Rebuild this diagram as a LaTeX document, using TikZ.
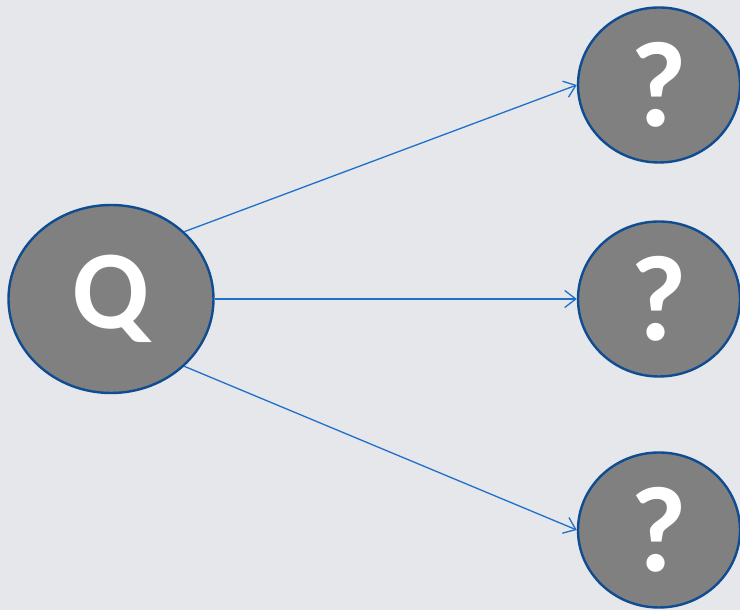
\documentclass[tikz,border=0pt]{standalone}
\usepackage{fontspec}
\setmainfont{Carlito}
\usetikzlibrary{shapes.geometric,arrows.meta}
\definecolor{bg}{HTML}{E5E7EA}
\definecolor{nodefill}{HTML}{808080}
\definecolor{nodeedge}{HTML}{0F4C91}
\definecolor{arrowblue}{HTML}{1F6FCB}
\tikzset{
  bubble/.style={ellipse, draw=nodeedge, line width=2.4pt, fill=nodefill, inner sep=0pt, text=white, font=\bfseries},
  link/.style={draw=arrowblue, line width=1.3pt, -{Straight Barb[length=11pt,width=17pt,line width=1.3pt]}}
}
\begin{document}
\begin{tikzpicture}[x=1pt,y=1pt]
\fill[bg] (0,0) rectangle (740,610);
\useasboundingbox (0,0) rectangle (740,610);
\node[bubble, minimum width=205pt, minimum height=188pt, font=\bfseries\fontsize{112}{112}\selectfont] (q) at (111,311) {Q};
\node[bubble, minimum width=162pt, minimum height=155pt, font=\bfseries\fontsize{122}{122}\selectfont] (a1) at (659,525) {?};
\node[bubble, minimum width=162pt, minimum height=155pt, font=\bfseries\fontsize{122}{122}\selectfont] (a2) at (659,311) {?};
\node[bubble, minimum width=162pt, minimum height=155pt, font=\bfseries\fontsize{122}{122}\selectfont] (a3) at (659,80) {?};
\draw[link] (q.north east) -- (a1.west);
\draw[link] (q.east) -- (a2.west);
\draw[link] (q.south east) -- (a3.west);
\end{tikzpicture}
\end{document}
